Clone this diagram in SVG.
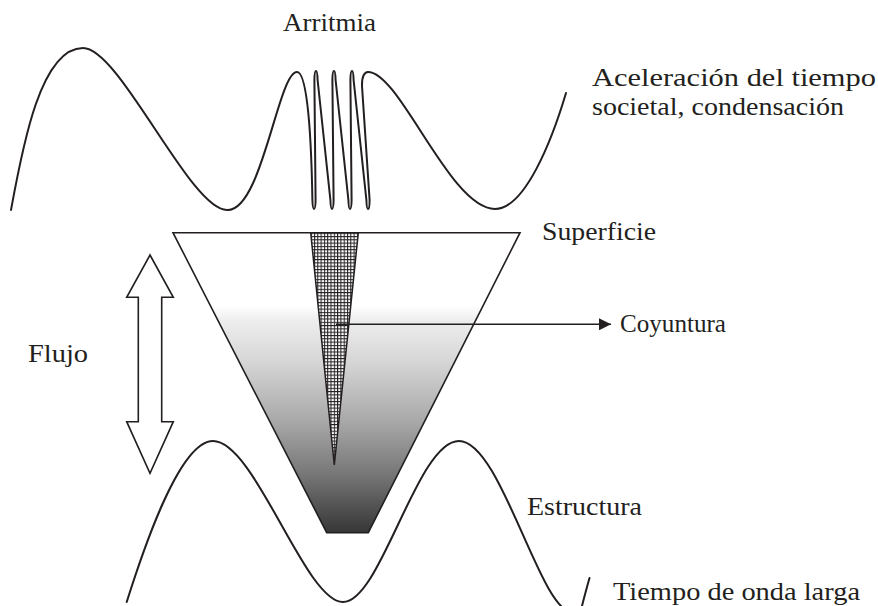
<svg xmlns="http://www.w3.org/2000/svg" width="878" height="606" viewBox="0 0 878 606">
<style>
.t{font-family:"Liberation Serif","DejaVu Serif",serif;font-size:25px;fill:#231f20}
.w{fill:none;stroke:#231f20;stroke-width:2;stroke-linecap:round;stroke-linejoin:round}
.o{stroke:#231f20;stroke-width:1.6;stroke-linejoin:miter}
</style>
<defs>
<linearGradient id="g" gradientUnits="userSpaceOnUse" x1="0" y1="232.7" x2="0" y2="532.7">
<stop offset="0" stop-color="#fff"/>
<stop offset="0.243" stop-color="#fff"/>
<stop offset="0.29" stop-color="#eeeeee"/>
<stop offset="0.43" stop-color="#d6d6d6"/>
<stop offset="0.63" stop-color="#a8a8a8"/>
<stop offset="0.8" stop-color="#787878"/>
<stop offset="1" stop-color="#363636"/>
</linearGradient>
<pattern id="hatch" patternUnits="userSpaceOnUse" x="310.7" y="232.7" width="3.3" height="3.3">
<rect width="3.3" height="3.3" fill="#fff"/>
<path d="M0,0.5H3.3M0.5,0V3.3" stroke="#231f20" stroke-width="1.05"/>
</pattern>
<marker id="ah" viewBox="0 0 10 10" refX="10" refY="5" markerWidth="14" markerHeight="12" markerUnits="userSpaceOnUse" orient="auto">
<path d="M0,0L10,5L0,10z" fill="#231f20"/>
</marker>
</defs>
<rect width="878" height="606" fill="#fff"/>

<g id="top-wave">
<path class="w" d="M11,210 C22,150 40,48 83,48 C120,48 190,210 227,210 C262,212 278,72 297,72 C306,72 311,120 312.4,200 C312.6,207 313,209 314,209 C315,209 315.5,207 315.6,200 L314.4,80 C314.5,73 315,71 316,71 C317,71 317.4,73 317.6,80 L330.4,200 C330.6,207 331,209 332,209 C333,209 333.5,207 333.6,200 L332.4,80 C332.5,73 333,71 334,71 C335,71 335.4,73 335.6,80 L348.4,200 C348.6,207 349,209 350,209 C351,209 351.5,207 351.6,200 L350.4,80 C350.5,73 351,71 352,71 C353,71 353.4,73 353.6,80 L366.4,200 C366.6,207 367,209 368,209 C369,209 369.6,207 369.6,200 L362,86 C361.8,76 364.5,72 368,72 C400,72 450,209 495,209 C525,209 552,140 566,93"/>
</g>

<g id="bottom-wave">
<path class="w" d="M126.7,602 C140,560 178,441 213,441 C255,441 305,602 343,602 C381,602 417,441 459,441 C501,441 540,612 572,612"/>
<path class="w" d="M582,606 Q585,594 589.5,578"/>
</g>

<g id="trapezoid">
<polygon class="o" points="173,232.7 520,232.7 368.3,532.7 326.7,532.7" fill="url(#g)"/>
</g>

<g id="cone">
<polygon points="310.7,232.7 358.3,232.7 334.3,465" fill="url(#hatch)" stroke="#231f20" stroke-width="1.5"/>
</g>

<g id="flujo-arrow">
<polygon class="o" fill="#fff" stroke-width="1.5" points="150,255 173.3,297.3 161.7,297.3 161.7,421.7 173.3,421.7 150,473.3 126.7,421.7 138.3,421.7 138.3,297.3 126.7,297.3"/>
</g>

<g id="connectors">
<line x1="336" y1="324.3" x2="611" y2="324.3" stroke="#231f20" stroke-width="1.5" marker-end="url(#ah)"/>
</g>

<g id="labels">
<text class="t" x="283" y="31" textLength="93" lengthAdjust="spacingAndGlyphs">Arritmia</text>
<text class="t" x="592" y="86" textLength="284" lengthAdjust="spacingAndGlyphs">Aceleración del tiempo</text>
<text class="t" x="592" y="115" textLength="252" lengthAdjust="spacingAndGlyphs">societal, condensación</text>
<text class="t" x="542" y="240" textLength="114" lengthAdjust="spacingAndGlyphs">Superficie</text>
<text class="t" x="620" y="332" textLength="106" lengthAdjust="spacingAndGlyphs">Coyuntura</text>
<text class="t" x="28" y="362" textLength="60" lengthAdjust="spacingAndGlyphs">Flujo</text>
<text class="t" x="527" y="515" textLength="115" lengthAdjust="spacingAndGlyphs">Estructura</text>
<text class="t" x="613" y="600" textLength="247" lengthAdjust="spacingAndGlyphs">Tiempo de onda larga</text>
</g>
</svg>
